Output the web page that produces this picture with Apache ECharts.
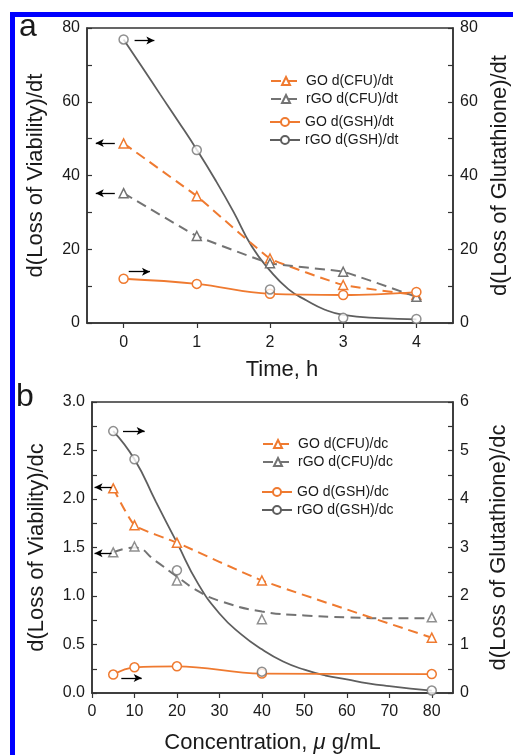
<!DOCTYPE html>
<html>
<head>
<meta charset="utf-8">
<script src="https://cdn.jsdelivr.net/npm/echarts@6/dist/echarts.min.js"></script>
<style>
  html, body { margin: 0; padding: 0; background: #fff; overflow: hidden; width: 513px; height: 755px; }
  #chart { width: 513px; height: 755px; position: absolute; left: 0; top: 0; }
  #frame { position: absolute; left: 10px; top: 12px; width: 498px; height: 738px;
           border-left: 5px solid #0000ff; border-top: 5px solid #0000ff; pointer-events: none; }
</style>
</head>
<body>
<div id="chart"></div>
<div id="frame"></div>
<script>
// ---------- Panel a: rates vs time ----------
const timeH = [0, 1, 2, 3, 4];
const timeTicks = [0, 1, 2, 3, 4];
const goCfuDt = [48.7, 34.4, 17.5, 10.3, 7.6];
const rgoCfuDt = [35.2, 23.6, 16.2, 13.9, 7.1];
const goGshDt = [12.0, 10.6, 7.9, 7.6, 8.4];
const rgoGshDt = [76.9, 46.9, 9.1, 1.4, 1.1];
// fitted curve for rGO d(GSH)/dt
const rgoGshDtFitX = [0, 0.25, 0.5, 0.75, 1, 1.25, 1.5, 1.75, 2, 2.25, 2.5, 2.75, 3, 3.5, 4];
const rgoGshDtFitY = [76.9, 69.5, 62.0, 54.6, 47.0, 38.9, 30.2, 20.8, 14.2, 9.2, 6.1, 3.6, 2.2, 1.3, 1.0];

// ---------- Panel b: rates vs concentration ----------
const concX = [5, 10, 20, 40, 80];
const concTicks = [0, 10, 20, 30, 40, 50, 60, 70, 80];
const goCfuDc = [2.11, 1.73, 1.55, 1.16, 0.57];
const rgoCfuDc = [1.45, 1.51, 1.16, 0.76, 0.78];
const goGshDc = [0.38, 0.53, 0.55, 0.40, 0.39];
const rgoGshDc = [5.40, 4.82, 2.53, 0.44, 0.05];
// fitted curves
const rgoCfuDcFitX = [5, 10, 15, 20, 25, 30, 40, 50, 60, 70, 80];
const rgoCfuDcFitY = [1.45, 1.50, 1.36, 1.20, 1.05, 0.95, 0.84, 0.80, 0.78, 0.77, 0.77];
const rgoGshDcFitX = [5, 10, 15, 20, 25, 30, 35, 40, 45, 50, 55, 60, 65, 70, 75, 80];
const rgoGshDcFitY = [5.40, 4.82, 3.95, 3.10, 2.25, 1.64, 1.22, 0.90, 0.65, 0.48, 0.36, 0.28, 0.20, 0.14, 0.09, 0.05];

// axis-pointer arrows [fromX, toX, y] in left-axis units
const arrowsA = [[0.15, 0.42, 76.6], [-0.12, -0.38, 48.8], [-0.12, -0.38, 35.2], [0.07, 0.36, 13.9]];
const arrowsB = [[7.3, 12.4, 2.70], [4.6, 0.6, 2.12], [4.6, 0.6, 1.44], [6.9, 11.7, 0.155]];

const ORANGE = '#EF7A30';
const GRAY = '#737373';
const DGRAY = '#5E5E5E';
const FONT = "'Liberation Sans', Arial, sans-serif";
const TXT = '#1a1a1a';

const zip = (xs, ys) => xs.map((x, i) => [x, ys[i]]);

function arrowMark(list) {
  return {
    silent: true, animation: false,
    symbol: ['none', 'arrow'], symbolSize: [6, 8],
    lineStyle: { color: '#000', type: 'solid', width: 1.3 },
    label: { show: false },
    emphasis: { disabled: true },
    data: list.map(a => [{ coord: [a[0], a[2]] }, { coord: [a[1], a[2]] }])
  };
}

function yAxisBase(grid, min, max, interval, pos, name, gap, fmt) {
  return {
    type: 'value', gridIndex: grid, position: pos, min: min, max: max, interval: interval,
    name: name, nameLocation: 'middle', nameGap: gap, nameRotate: 90,
    nameTextStyle: { fontFamily: FONT, fontSize: 22, color: TXT },
    axisLine: { show: true, onZero: false, lineStyle: { color: '#333', width: 1.5 } },
    axisTick: { show: true, inside: true, length: 5, lineStyle: { color: '#333', width: 1.2 } },
    minorTick: { show: true, splitNumber: 2, length: 5, lineStyle: { color: '#333', width: 1.2 } },
    splitLine: { show: false },
    axisLabel: { fontFamily: FONT, fontSize: 16, color: TXT, margin: 7, formatter: fmt }
  };
}

function xAxisBase(grid, min, max, ticks, name, gap, margin, extra) {
  return Object.assign({
    type: 'value', gridIndex: grid, min: min, max: max,
    name: name, nameLocation: 'middle', nameGap: gap,
    axisLine: { show: true, onZero: false, lineStyle: { color: '#333', width: 1.5 } },
    axisTick: { show: true, inside: false, length: 5, customValues: ticks, lineStyle: { color: '#333', width: 1.2 } },
    splitLine: { show: false },
    axisLabel: { fontFamily: FONT, fontSize: 16, color: TXT, margin: margin, customValues: ticks }
  }, extra);
}

function lineSeries(name, data, color, dashed, symbol, xi, yi, smooth) {
  return {
    name: name, type: 'line', xAxisIndex: xi, yAxisIndex: yi, data: data,
    smooth: smooth, symbol: symbol, symbolSize: 9, showSymbol: true,
    lineStyle: { color: color, width: dashed ? 2 : 1.8, type: dashed ? [10, 6] : 'solid' },
    itemStyle: { color: '#fff', borderColor: color, borderWidth: 1.5 },
    emphasis: { disabled: true }, z: 3
  };
}

function curveSeries(name, data, color, dashed, symbol, xi, yi) {
  const s = lineSeries(name, data, color, dashed, symbol, xi, yi, 0.5);
  s.showSymbol = false;
  s.z = 2;
  return s;
}

function pointSeries(name, data, color, symbol, xi, yi) {
  return {
    name: name, type: 'scatter', xAxisIndex: xi, yAxisIndex: yi, data: data,
    symbol: symbol, symbolSize: 9,
    itemStyle: { color: '#fff', borderColor: color, borderWidth: 1.5 },
    emphasis: { disabled: true }, z: 4
  };
}

function legendBase(names, left, top) {
  return {
    data: names, orient: 'vertical', left: left, top: top,
    itemWidth: 30, itemHeight: 10, itemGap: 4,
    textStyle: { fontFamily: FONT, fontSize: 14, color: TXT },
    selectedMode: false
  };
}

const s1 = lineSeries('GO d(CFU)/dt', zip(timeH, goCfuDt), ORANGE, true, 'triangle', 0, 0, 0.1);
s1.markLine = arrowMark(arrowsA);
const s5 = lineSeries('GO d(CFU)/dc', zip(concX, goCfuDc), ORANGE, true, 'triangle', 1, 2, 0.15);
s5.markLine = arrowMark(arrowsB);

const option = {
  animation: false,
  backgroundColor: '#fff',
  title: [
    { text: 'a', left: 14, top: 6, textStyle: { fontFamily: FONT, fontSize: 32, fontWeight: 'normal', color: TXT } },
    { text: 'b', left: 11, top: 376, textStyle: { fontFamily: FONT, fontSize: 32, fontWeight: 'normal', color: TXT } }
  ],
  grid: [
    { left: 87, top: 28, width: 366, height: 295, show: true, borderColor: '#333', borderWidth: 1.5, backgroundColor: 'transparent', containLabel: false, outerBoundsMode: 'none' },
    { left: 92, top: 402, width: 361, height: 291, show: true, borderColor: '#333', borderWidth: 1.5, backgroundColor: 'transparent', containLabel: false, outerBoundsMode: 'none' }
  ],
  legend: [
    legendBase(['GO d(CFU)/dt', 'rGO d(CFU)/dt'], 265, 69),
    legendBase(['GO d(GSH)/dt', 'rGO d(GSH)/dt'], 264, 110),
    legendBase(['GO d(CFU)/dc', 'rGO d(CFU)/dc'], 257, 432),
    legendBase(['GO d(GSH)/dc', 'rGO d(GSH)/dc'], 256, 480)
  ],
  xAxis: [
    xAxisBase(0, -0.5, 4.5, timeTicks, 'Time, h', 36, 12,
      { nameTextStyle: { fontFamily: FONT, fontSize: 22, color: TXT, padding: [0, 0, 0, 24] } }),
    xAxisBase(1, 0, 85, concTicks, 'Concentration, {i|μ} g/mL', 39, 11,
      { nameTextStyle: { fontFamily: FONT, fontSize: 22, color: TXT,
          rich: { i: { fontFamily: FONT, fontSize: 22, fontStyle: 'italic', color: TXT } } } })
  ],
  yAxis: [
    yAxisBase(0, 0, 80, 20, 'left', 'd(Loss of Viability)/dt', 40),
    yAxisBase(0, 0, 80, 20, 'right', 'd(Loss of Glutathione)/dt', 35),
    yAxisBase(1, 0, 3, 0.5, 'left', 'd(Loss of Viability)/dc', 44, v => v.toFixed(1)),
    yAxisBase(1, 0, 6, 1, 'right', 'd(Loss of Glutathione)/dc', 35)
  ],
  series: [
    // panel a
    s1,
    lineSeries('rGO d(CFU)/dt', zip(timeH, rgoCfuDt), GRAY, true, 'triangle', 0, 0, 0.1),
    lineSeries('GO d(GSH)/dt', zip(timeH, goGshDt), ORANGE, false, 'circle', 0, 1, 0.4),
    curveSeries('rGO d(GSH)/dt', zip(rgoGshDtFitX, rgoGshDtFitY), DGRAY, false, 'circle', 0, 1),
    pointSeries('rGO d(GSH)/dt', zip(timeH, rgoGshDt), GRAY, 'circle', 0, 1),
    // panel b
    s5,
    curveSeries('rGO d(CFU)/dc', zip(rgoCfuDcFitX, rgoCfuDcFitY), GRAY, true, 'triangle', 1, 2),
    pointSeries('rGO d(CFU)/dc', zip(concX, rgoCfuDc), GRAY, 'triangle', 1, 2),
    lineSeries('GO d(GSH)/dc', zip(concX, goGshDc), ORANGE, false, 'circle', 1, 3, 0.4),
    curveSeries('rGO d(GSH)/dc', zip(rgoGshDcFitX, rgoGshDcFitY), DGRAY, false, 'circle', 1, 3),
    pointSeries('rGO d(GSH)/dc', zip(concX, rgoGshDc), GRAY, 'circle', 1, 3)
  ]
};

const chart = echarts.init(document.getElementById('chart'), null, { renderer: 'canvas' });
chart.setOption(option);
</script>
</body>
</html>
